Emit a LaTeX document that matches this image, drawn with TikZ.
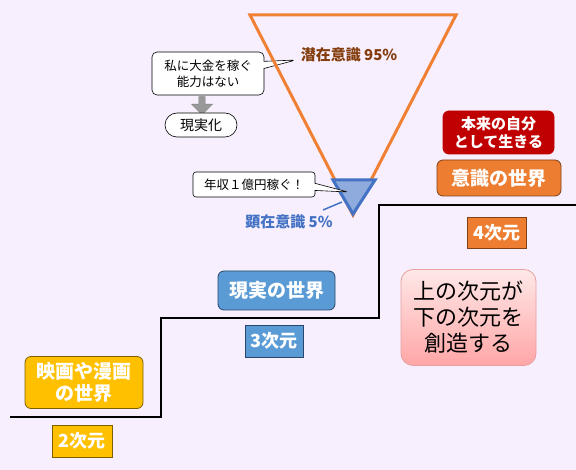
\documentclass[tikz,border=0pt]{standalone}
\usepackage{fontspec}
\setmainfont{Noto Sans CJK JP}
\usepackage{tikz}
\usetikzlibrary{shapes.callouts,shapes.arrows,shapes.misc,positioning}

\definecolor{bgcol}{RGB}{247,239,253}
\definecolor{orangeline}{RGB}{240,128,52}
\definecolor{browntext}{RGB}{132,60,12}
\definecolor{bluetext}{RGB}{68,114,196}
\definecolor{bluefill}{RGB}{143,170,220}
\definecolor{redbox}{RGB}{192,0,0}
\definecolor{orangebox}{RGB}{237,125,49}
\definecolor{orangeborder}{RGB}{128,64,26}
\definecolor{bluebox}{RGB}{91,155,213}
\definecolor{blueborder}{RGB}{40,70,110}
\definecolor{yellowbox}{RGB}{255,192,0}
\definecolor{yellowborder}{RGB}{127,96,0}
\definecolor{pinktop}{RGB}{255,232,232}
\definecolor{pinkbot}{RGB}{255,166,166}
\definecolor{pinkborder}{RGB}{232,160,160}

\tikzset{
	world/.style={rounded corners=6pt, draw, line width=0.8pt, text=white, align=center, inner sep=0pt, font=\bfseries\fontsize{19}{22}\selectfont},
	dim/.style={draw, line width=0.8pt, text=white, inner sep=0pt, minimum width=59pt, minimum height=31pt, font=\bfseries\fontsize{18}{20}\selectfont},
	note/.style={rectangle callout, rounded corners=5pt, draw, fill=white, line width=0.6pt, align=center, inner sep=0pt, font=\fontsize{12.5}{16}\selectfont}
}

\begin{document}
\begin{tikzpicture}[x=1pt, y=-1pt]
		
		\fill[bgcol] (0,0) rectangle (576,470);
		\useasboundingbox (0,0) rectangle (576,470);
		
		% stairs
		\draw[line width=2.5pt] (10,417) -| (161,318) -| (379,205) -- (576,205);
		
		\node[note, minimum width=112pt, minimum height=43pt, callout absolute pointer={(296,60)}] (belief) at (208,73.5) {私に大金を稼ぐ\\能力はない};
		
		\node[single arrow, shape border rotate=270, fill=gray!80, draw=gray, minimum height=18pt, minimum width=21pt, single arrow head extend=5pt, inner sep=2pt] (down) at (202,104) {};
		
		\node[rounded rectangle, draw, fill=white, line width=0.6pt, minimum width=72pt, minimum height=24pt, inner sep=0pt, font=\fontsize{14}{16}\selectfont] (real) at (201,125) {現実化};
		
		% triangles
		\draw[orangeline, line width=3pt, line join=miter] (250,15) -- (456,15) -- (353,215) -- cycle;
		\draw[bluetext, fill=bluefill, line width=3pt] (333,180) -- (375,180) -- (353,214) -- cycle;
		
		\node[text=browntext, font=\bfseries\fontsize{15}{18}\selectfont] (hidden) at (349,55) {潜在意識 95\%};
		
		\node[note, rounded corners=3pt, minimum width=122pt, minimum height=25pt, callout absolute pointer={(348,192)}] (wish) at (254,184.5) {年収１億円稼ぐ！};
		
		\node[text=bluetext, font=\bfseries\fontsize{15}{18}\selectfont] (aware) at (289,222) {顕在意識 5\%};
		\coordinate (tip) at (342,202);
		\coordinate (tail) at (323,210);
		\draw[bluetext, line width=1.5pt] (tip) -- (tail);
		
		% worlds
		\node[world, fill=redbox, draw=redbox, minimum width=111pt, minimum height=43pt, font=\bfseries\fontsize{15}{18}\selectfont] (self) at (498.5,132.5) {本来の自分\\として生きる};
		
		\node[world, fill=orangebox, draw=orangeborder, minimum width=124pt, minimum height=36pt] (mind) at (499,178) {意識の世界};
		
		\node[dim, fill=orangebox, draw=orangeborder] (d4) at (497,232.5) {4次元};
		
		\node[world, fill=bluebox, draw=blueborder, minimum width=117pt, minimum height=39pt] (earth) at (276.5,290.5) {現実の世界};
		
		\node[dim, fill=bluebox, draw=blueborder, minimum width=58pt, minimum height=32pt] (d3) at (274,341) {3次元};
		
		\node[world, fill=yellowbox, draw=yellowborder, minimum width=118pt, minimum height=52pt] (movie) at (84,382.5) {映画や漫画\\の世界};
		
		\node[dim, fill=yellowbox, draw=yellowborder, minimum width=60pt, minimum height=32pt] (d2) at (82,441) {2次元};
		
		\node[rounded corners=12pt, draw=pinkborder, top color=pinktop, bottom color=pinkbot, line width=0.8pt, minimum width=135pt, minimum height=96pt, align=center, inner sep=0pt, font=\fontsize{22}{26}\selectfont] (rule) at (468.5,317.5) {上の次元が\\下の次元を\\創造する};
		
	\end{tikzpicture}
\end{document}
